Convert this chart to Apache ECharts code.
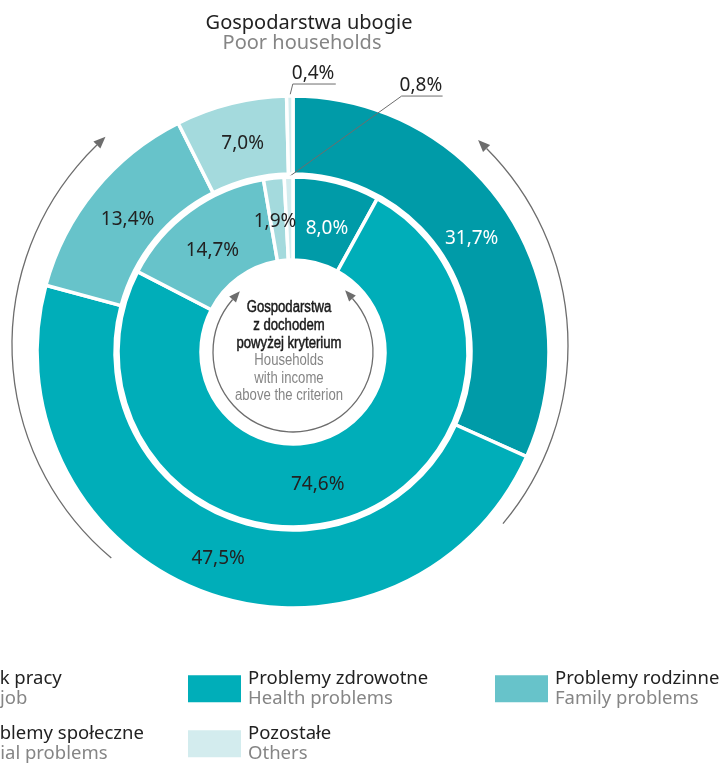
<!DOCTYPE html>
<html>
<head>
<meta charset="utf-8">
<script src="https://cdn.jsdelivr.net/npm/echarts@6/dist/echarts.min.js"></script>
<style>
  html, body { margin: 0; padding: 0; background: #fff; }
  #chart { width: 724px; height: 763px; }
</style>
</head>
<body>
<div id="chart"></div>
<script>
// categories (PL / EN)
const categories = ['Brak pracy', 'Problemy zdrowotne', 'Problemy rodzinne', 'Problemy społeczne', 'Pozostałe'];
const categoriesEn = ['No job', 'Health problems', 'Family problems', 'Social problems', 'Others'];
// outer ring: Gospodarstwa ubogie, inner ring: z dochodem powyżej kryterium
const poorValues = [31.7, 47.5, 13.4, 7.0, 0.4];
const aboveValues = [8.0, 74.6, 14.7, 1.9, 0.8];

const palette = ['#009ba8', '#00aeb9', '#67c3ca', '#a4dadd', '#d3ecee'];
const FONT = '"Noto Sans", sans-serif';
const NARROW = '"Liberation Sans", Arial, sans-serif';
const CX = 293, CY = 352;

// small nudges of the inside labels, per slice
const outerNudge = [[-6, 6], [-1, -1], [5, 7], [3, 5], [0, 0]];
const innerNudge = [[0, 9], [-15, 2], [0, 9], [-3, 5], [0, 0]];

const pct = p => p.value.toFixed(1).replace('.', ',') + '%';

function buildData(values) {
    return categories.map((name, i) => {
        let item = {name: name, value: values[i], itemStyle: {color: palette[i]}};
        if (i === 0) item.label = {color: '#fff'};
        if (i === 4) {
            item.label = {position: 'outside'};
            item.labelLine = {show: true, length: 8, length2: 8, lineStyle: {color: '#6d6d6d', width: 1}};
        }
        return item;
    });
}

// arrows: arc + triangular head(s)
const rad = d => d * Math.PI / 180;
function head(cx, cy, r, deg, dir, len, w) {
    let a = rad(deg);
    let bx = cx + r * Math.cos(a), by = cy + r * Math.sin(a);
    let tx = -Math.sin(a) * dir, ty = Math.cos(a) * dir;
    let nx = -ty, ny = tx;
    return {
        type: 'polygon',
        shape: {points: [[bx + tx * len, by + ty * len], [bx + nx * w / 2, by + ny * w / 2], [bx - nx * w / 2, by - ny * w / 2]]},
        style: {fill: '#6d6d6d'}
    };
}
function arc(cx, cy, r, a0, a1) {
    return {
        type: 'arc',
        shape: {cx: cx, cy: cy, r: r, startAngle: rad(a0), endAngle: rad(a1), clockwise: true},
        style: {fill: null, stroke: '#6d6d6d', lineWidth: 1.3}
    };
}

let legends = [];
const legendPos = [[-90, 669], [188, 669], [495, 669], [-90, 724], [188, 724]];
categories.forEach((name, i) => {
    legends.push({
        data: [name],
        left: legendPos[i][0],
        top: legendPos[i][1],
        padding: 0,
        icon: 'rect',
        itemWidth: 53,
        itemHeight: 27,
        selectedMode: false,
        itemStyle: {borderWidth: 0},
        formatter: n => '{a|' + n + '}\n{b|' + categoriesEn[categories.indexOf(n)] + '}',
        textStyle: {
            rich: {
                a: {fontFamily: FONT, fontSize: 18.5, color: '#222', lineHeight: 20.5, padding: [0, 0, 0, 2]},
                b: {fontFamily: FONT, fontSize: 18.5, color: '#858585', lineHeight: 20.5, padding: [0, 0, 0, 2]}
            }
        }
    });
});

function nudge(table) {
    return function (p) {
        let d = table[p.dataIndex];
        return {dx: d[0], dy: d[1]};
    };
}

let ec = echarts.init(document.getElementById('chart'));
let option = {
    animation: false,
    legend: legends,
    graphic: [
        {type: 'text', x: 309, y: 23, style: {text: 'Gospodarstwa ubogie', fontFamily: FONT, fontSize: 20, fill: '#222', align: 'center', verticalAlign: 'middle'}},
        {type: 'text', x: 302, y: 43, style: {text: 'Poor households', fontFamily: FONT, fontSize: 20, fill: '#858585', align: 'center', verticalAlign: 'middle'}},
        {
            type: 'text', x: 289, y: 352, scaleX: 0.82,
            style: {
                text: '{a|Gospodarstwa}\n{a|z dochodem}\n{a|powyżej kryterium}\n{b|Households}\n{b|with income}\n{b|above the criterion}',
                align: 'center', verticalAlign: 'middle',
                rich: {
                    a: {fontFamily: NARROW, fontSize: 16, fill: '#1a1a1a', stroke: '#1a1a1a', lineWidth: 0.5, lineHeight: 17.6, align: 'center'},
                    b: {fontFamily: NARROW, fontSize: 16, fill: '#858585', lineHeight: 17.6, align: 'center'}
                }
            }
        },
        arc(290, 345, 278, 130, 226),
        head(290, 345, 278, 226, 1, 12, 10),
        arc(290, 345, 278, -45, 40),
        head(290, 345, 278, -45, -1, 12, 10),
        arc(CX, CY, 80, -42, 221),
        head(CX, CY, 80, 221, 1, 11, 9),
        head(CX, CY, 80, -42, -1, 11, 9)
    ],
    series: [{
        name: 'Gospodarstwa ubogie',
        type: 'pie',
        z: 2,
        center: [CX, CY],
        radius: [178, 256],
        startAngle: 90,
        clockwise: true,
        avoidLabelOverlap: false,
        silent: true,
        itemStyle: {borderColor: '#fff', borderWidth: 3.5},
        label: {show: true, position: 'inside', formatter: pct, color: '#222', fontFamily: FONT, fontSize: 19},
        labelLine: {show: false},
        labelLayout: function (p) {
            if (p.dataIndex !== 4 || !p.labelLinePoints) return nudge(outerNudge)(p);
            let s = p.labelLinePoints[0];
            return {
                x: s[0] + 2, y: s[1] - 22, align: 'left', verticalAlign: 'middle',
                labelLinePoints: [s, [s[0] + 3, s[1] - 12], [s[0] + 46, s[1] - 12]]
            };
        },
        data: buildData(poorValues)
    }, {
        name: 'Gospodarstwa z dochodem powyżej kryterium',
        type: 'pie',
        z: 3,
        center: [CX, CY],
        radius: [92, 175],
        startAngle: 90,
        clockwise: true,
        avoidLabelOverlap: false,
        silent: true,
        itemStyle: {borderColor: '#fff', borderWidth: 3.5},
        label: {show: true, position: 'inside', formatter: pct, color: '#222', fontFamily: FONT, fontSize: 19},
        labelLine: {show: false},
        labelLayout: function (p) {
            if (p.dataIndex !== 4 || !p.labelLinePoints) return nudge(innerNudge)(p);
            let s = p.labelLinePoints[0];
            return {
                x: s[0] + 111, y: s[1] - 91, align: 'left', verticalAlign: 'middle',
                labelLinePoints: [s, [s[0] + 113, s[1] - 81], [s[0] + 154, s[1] - 81]]
            };
        },
        data: buildData(aboveValues)
    }]
};
ec.setOption(option);
</script>
</body>
</html>
